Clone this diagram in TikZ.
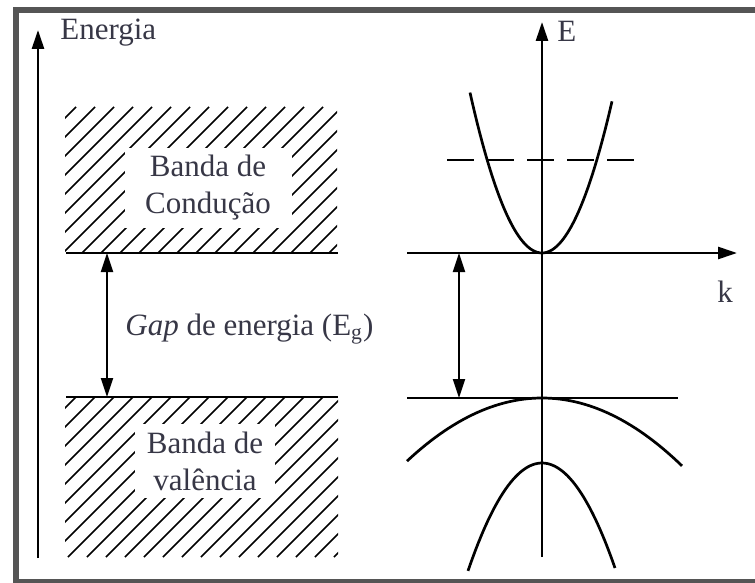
\documentclass[tikz,border=0pt]{standalone}
\usepackage{fontspec}
\setmainfont{Liberation Serif}
\usetikzlibrary{arrows.meta}
\definecolor{frameGray}{RGB}{85,85,85}
\definecolor{txtGray}{RGB}{55,55,70}

\tikzset{
  axis/.style={line width=1.3pt,-{Triangle[length=9.5pt,width=6pt]}},
  gaparrow/.style={line width=1.1pt,{Triangle[length=9.5pt,width=6pt]}-{Triangle[length=9.5pt,width=6pt]}},
  bandedge/.style={line width=1.4pt},
  hatchline/.style={line width=0.85pt},
  bandcurve/.style={line width=1.35pt},
  lbl/.style={text=txtGray,inner sep=0pt},
  bandlabel/.style={lbl,fill=white,align=center},
}

\begin{document}
\begin{tikzpicture}[x=0.5pt,y=-0.5pt,font=\fontsize{15.5}{18.5}\selectfont]
  \useasboundingbox (0,0) rectangle (755,583);
  % --- frame (open on the right) --------------------------------------------
  \draw[frameGray,line width=3pt] (755,10) -- (16,10) -- (16,582) -- (755,582);

  % --- left: band scheme -------------------------------------------------
  \coordinate (enBot) at (38,558);  \coordinate (enTop) at (38,30);
  \coordinate (cbL) at (66,253);    \coordinate (cbR) at (338,253);
  \coordinate (vbL) at (66,397);    \coordinate (vbR) at (338,397);
  \coordinate (gapTop) at (107,253); \coordinate (gapBot) at (107,397);

  \begin{scope}
    \clip (65,107) rectangle (337,253);
    \foreach \h in {-146,-127,...,337}
      \draw[hatchline] (\h,253) -- ++(146,-146);
  \end{scope}
  \begin{scope}
    \clip (65,397) rectangle (338,557);
    \foreach \h in {-160,-141,...,338}
      \draw[hatchline] (\h,557) -- ++(160,-160);
  \end{scope}

  \node[bandlabel,minimum width=83.5pt,minimum height=40pt] (cond) at (208,188)
    {Banda de\\Condução};
  \node[bandlabel,minimum width=70pt,minimum height=37pt] (val) at (205,461)
    {Banda de\\valência};

  \draw[bandedge] (cbL) -- (cbR);
  \draw[bandedge] (vbL) -- (vbR);
  \draw[axis] (enBot) -- (enTop);
  \draw[gaparrow] (gapTop) -- (gapBot);

  \node[lbl,anchor=base west] (energia) at (60,40) {Energia};
  \node[lbl,anchor=base west] (gaplabel) at (125,335)
    {{\itshape Gap} de energia (E\textsubscript{g})};

  % --- right: E(k) diagram -------------------------------------------------
  \coordinate (eBot) at (542,557);  \coordinate (eTop) at (542,22);
  \coordinate (kL) at (407,253);    \coordinate (kR) at (737,253);
  \coordinate (vmL) at (407,398);   \coordinate (vmR) at (678,398);
  \coordinate (gap2Top) at (459,253); \coordinate (gap2Bot) at (459,398);
  \coordinate (fL) at (447,160);    \coordinate (fR) at (637,160);

  \draw[axis] (eBot) -- (eTop);
  \draw[axis] (kL) -- (kR);
  \draw[bandedge] (vmL) -- (vmR);
  \draw[gaparrow] (gap2Top) -- (gap2Bot);
  \draw[line width=1.2pt,dash pattern=on 13.5pt off 6.5pt] (fL) -- (fR);

  % conduction band and the two valence bands
  \draw[bandcurve] plot[domain=-72:70,samples=60]
    ({542+\x},{253-156*(\x/71)*(\x/71)});
  \draw[bandcurve] plot[domain=-135:140,samples=60]
    ({542+\x},{398+65*(\x/137)*(\x/137)});
  \draw[bandcurve] plot[domain=-74:73,samples=60]
    ({542+\x},{463+105*(\x/73)*(\x/73)});

  \node[lbl,anchor=base west] (elabel) at (557,42) {E};
  \node[lbl,anchor=base west] (klabel) at (717,302) {k};
\end{tikzpicture}
\end{document}
